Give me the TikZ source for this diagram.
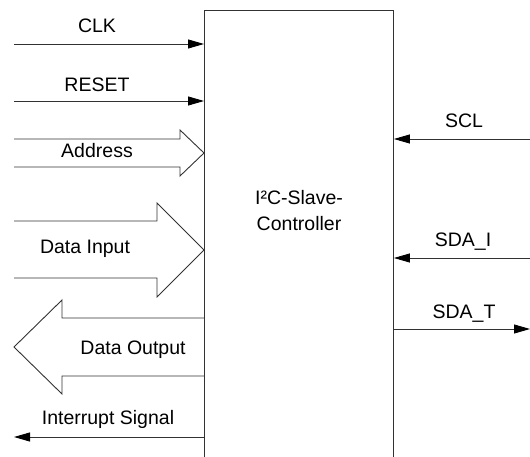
\documentclass[tikz,border=0pt]{standalone}
\usepackage{fontspec}
\setmainfont{Liberation Sans}
\usetikzlibrary{arrows.meta}

\definecolor{wiregray}{RGB}{50,50,50}

\begin{document}
\begin{tikzpicture}[x=1pt, y=-1pt, font=\fontsize{19.5}{25}\selectfont,
    wire/.style={draw=wiregray, line width=0.9pt},
    sig/.style={wire, -{Triangle[length=16pt, width=9pt, black]}},
    lbl/.style={anchor=base, inner sep=0pt}]
  \useasboundingbox (0,0) rectangle (530,457);
  \clip (0,0) rectangle (530,457);

  % controller block, runs off the bottom edge
  \node[wire, minimum width=189pt, minimum height=480pt, inner sep=0pt,
        anchor=north west] (ctrl) at (204,10) {};
  \node[lbl, align=center] (ctrltext) at (299,230) {I²C-Slave-\\Controller};

  % single inputs
  \coordinate (clk) at (14,44);
  \coordinate (rst) at (14,101);
  \draw[sig] (clk) -- (clk -| ctrl.west);
  \draw[sig] (rst) -- (rst -| ctrl.west);
  \node[lbl] (clklbl) at (97,33) {CLK};
  \node[lbl] (rstlbl) at (97,92) {RESET};

  % buses
  \draw[wire] (14,139) -- (180,139) -- (180,130) -- (204,153)
    -- (180,176) -- (180,167) -- (14,167);
  \node[lbl] (adrlbl) at (97,158) {Address};
  \draw[wire] (14,221) -- (157,221) -- (157,203) -- (204,250)
    -- (157,297) -- (157,278) -- (14,278);
  \node[lbl] (dinlbl) at (85,254) {Data Input};
  \draw[wire] (204,318) -- (62,318) -- (62,300) -- (14,347)
    -- (62,394) -- (62,376) -- (204,376);
  \node[lbl] (doutlbl) at (133,354) {Data Output};

  % interrupt out
  \coordinate (irq) at (14,437);
  \draw[sig] (irq -| ctrl.west) -- (irq);
  \node[lbl] (irqlbl) at (108,424) {Interrupt Signal};

  % I2C bus side
  \coordinate (scl) at (530,139);
  \coordinate (sdai) at (530,258);
  \coordinate (sdat) at (530,329);
  \draw[sig] (scl) -- (scl -| ctrl.east);
  \draw[sig] (sdai) -- (sdai -| ctrl.east);
  \draw[sig] (sdat -| ctrl.east) -- (sdat);
  \node[lbl] (scllbl) at (464,128) {SCL};
  \node[lbl] (sdailbl) at (463,247) {SDA\_I};
  \node[lbl] (sdatlbl) at (464,318) {SDA\_T};
\end{tikzpicture}
\end{document}
